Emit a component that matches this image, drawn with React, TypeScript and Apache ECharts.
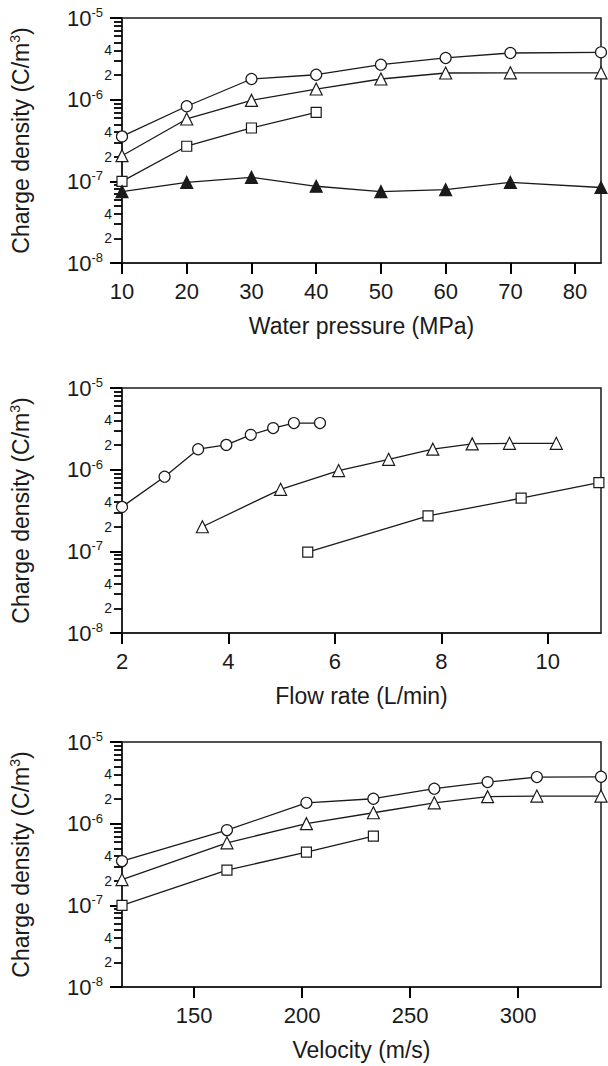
import React, { useEffect, useRef } from "react";
import * as echarts from "echarts";

// ---------- data ----------
const pressure = [10, 20, 30, 40, 50, 60, 70, 84];
const pressureCircle = [3.55e-7, 8.3e-7, 1.79e-6, 2.02e-6, 2.68e-6, 3.24e-6, 3.73e-6, 3.8e-6];
const pressureTriangle = [2.06e-7, 5.8e-7, 9.8e-7, 1.35e-6, 1.79e-6, 2.12e-6, 2.13e-6, 2.13e-6];
const pressureSquareX = [10, 20, 30, 40];
const pressureSquare = [1.0e-7, 2.69e-7, 4.5e-7, 7.0e-7];
const pressureFilled = [7.5e-8, 9.7e-8, 1.12e-7, 8.7e-8, 7.5e-8, 7.9e-8, 9.7e-8, 8.4e-8];

const flowCircleX = [2.0, 2.8, 3.43, 3.96, 4.42, 4.84, 5.23, 5.72];
const flowCircle = [3.5e-7, 8.2e-7, 1.78e-6, 2.01e-6, 2.67e-6, 3.23e-6, 3.72e-6, 3.72e-6];
const flowTriangleX = [3.51, 4.98, 6.07, 7.01, 7.84, 8.58, 9.28, 10.16];
const flowTriangle = [2.0e-7, 5.75e-7, 9.75e-7, 1.34e-6, 1.78e-6, 2.07e-6, 2.1e-6, 2.1e-6];
const flowSquareX = [5.49, 7.75, 9.5, 10.96];
const flowSquare = [9.8e-8, 2.71e-7, 4.47e-7, 6.95e-7];

const velocity = [116.6, 165.2, 202, 233, 261.2, 285.9, 308.7, 338.4];
const velocityCircle = [3.48e-7, 8.34e-7, 1.8e-6, 2.02e-6, 2.68e-6, 3.23e-6, 3.72e-6, 3.75e-6];
const velocityTriangle = [2.07e-7, 5.83e-7, 1.0e-6, 1.36e-6, 1.8e-6, 2.14e-6, 2.18e-6, 2.18e-6];
const velocitySquareX = [116.6, 165.2, 202, 233];
const velocitySquare = [1.0e-7, 2.7e-7, 4.48e-7, 7.05e-7];

const pressureTicks = [10, 20, 30, 40, 50, 60, 70, 80];
const flowTicks = [2, 4, 6, 8, 10];
const velocityTicks = [150, 200, 250, 300];

const yMajor = [1e-8, 1e-7, 1e-6, 1e-5];
const yMinorLabels = [2e-8, 4e-8, 2e-7, 4e-7, 2e-6, 4e-6];
const yMinorTicks = [
  2e-8, 3e-8, 4e-8, 5e-8, 6e-8, 7e-8, 8e-8, 9e-8,
  2e-7, 3e-7, 4e-7, 5e-7, 6e-7, 7e-7, 8e-7, 9e-7,
  2e-6, 3e-6, 4e-6, 5e-6, 6e-6, 7e-6, 8e-6, 9e-6,
];

const xTitles = ["Water pressure (MPa)", "Flow rate (L/min)", "Velocity (m/s)"];
const yTitle = "Charge density (C/m";

// ---------- styling ----------
const INK = "#1a1a1a";
const TICK = "#000000";
const FONT = '"Liberation Sans", Arial, Helvetica, sans-serif';

function expOf(v: number) {
  return Math.floor(Math.log10(v) + 1e-9);
}
function majorFmt(v: number) {
  return `{b|10}{s|${expOf(v)}}`;
}
function minorFmt(v: number) {
  const e = expOf(v);
  return String(Math.round(v / Math.pow(10, e)));
}

type S = { x: number[]; y: number[]; symbol: string; filled?: boolean; size: number };

const panels: { top: number; min: number; max: number; ticks: number[]; series: S[] }[] = [
  {
    top: 18, min: 10, max: 84, ticks: pressureTicks,
    series: [
      { x: pressure, y: pressureCircle, symbol: "circle", size: 11 },
      { x: pressure, y: pressureTriangle, symbol: "triangle", size: 12 },
      { x: pressureSquareX, y: pressureSquare, symbol: "rect", size: 10 },
      { x: pressure, y: pressureFilled, symbol: "triangle", size: 12, filled: true },
    ],
  },
  {
    top: 388, min: 2, max: 11, ticks: flowTicks,
    series: [
      { x: flowCircleX, y: flowCircle, symbol: "circle", size: 11 },
      { x: flowTriangleX, y: flowTriangle, symbol: "triangle", size: 12 },
      { x: flowSquareX, y: flowSquare, symbol: "rect", size: 10 },
    ],
  },
  {
    top: 742, min: 116.6, max: 338.4, ticks: velocityTicks,
    series: [
      { x: velocity, y: velocityCircle, symbol: "circle", size: 11 },
      { x: velocity, y: velocityTriangle, symbol: "triangle", size: 12 },
      { x: velocitySquareX, y: velocitySquare, symbol: "rect", size: 10 },
    ],
  },
];

function buildOption() {
  const grid: any[] = [];
  const xAxis: any[] = [];
  const yAxis: any[] = [];
  const series: any[] = [];

  panels.forEach((p, i) => {
    grid.push({
      left: 122, top: p.top, width: 479, height: 245,
      show: true, borderColor: INK, borderWidth: 1.5, backgroundColor: "transparent",
    });
    xAxis.push({
      type: "value", gridIndex: i, min: p.min, max: p.max, position: "bottom",
      axisLine: { show: true, onZero: false, lineStyle: { color: INK, width: 1.5 } },
      axisTick: { show: true, inside: false, length: 11, lineStyle: { color: TICK, width: 2 }, customValues: p.ticks },
      axisLabel: { customValues: p.ticks, margin: 17, fontSize: 22, color: INK, fontFamily: FONT },
      splitLine: { show: false },
      name: xTitles[i], nameLocation: "middle", nameGap: 51,
      nameTextStyle: { fontSize: 23, color: INK, fontFamily: FONT },
    });
    yAxis.push({
      type: "log", logBase: 10, gridIndex: i, min: 1e-8, max: 1e-5, position: "left",
      axisLine: { show: true, onZero: false, lineStyle: { color: INK, width: 1.5 } },
      axisTick: { show: true, inside: false, length: 12, lineStyle: { color: TICK, width: 2 }, customValues: yMajor },
      axisLabel: {
        customValues: yMajor, margin: 19,
        formatter: (v: number) => majorFmt(v),
        rich: {
          b: { fontSize: 22, lineHeight: 24, color: INK, fontFamily: FONT },
          s: { fontSize: 13, lineHeight: 13, color: INK, fontFamily: FONT, verticalAlign: "top" },
        },
      },
      splitLine: { show: false },
      name: `{t|${yTitle}}{s|3}{t|)}`, nameLocation: "middle", nameRotate: 90, nameGap: 88,
      nameTextStyle: {
        rich: {
          t: { fontSize: 23, lineHeight: 26, color: INK, fontFamily: FONT },
          s: { fontSize: 14, lineHeight: 14, color: INK, fontFamily: FONT, verticalAlign: "top" },
        },
      },
    });
    yAxis.push({
      type: "log", logBase: 10, gridIndex: i, min: 1e-8, max: 1e-5, position: "left",
      axisLine: { show: false },
      axisTick: { show: true, inside: false, length: 8, lineStyle: { color: TICK, width: 1.8 }, customValues: yMinorTicks },
      axisLabel: {
        customValues: yMinorLabels, margin: 10, fontSize: 14, color: INK, fontFamily: FONT,
        formatter: (v: number) => minorFmt(v),
      },
      splitLine: { show: false },
    });

    p.series.forEach((s) => {
      series.push({
        type: "line", xAxisIndex: i, yAxisIndex: i * 2,
        data: s.x.map((x, j) => [x, s.y[j]]),
        symbol: s.symbol, symbolSize: s.size, showSymbol: true, clip: false,
        lineStyle: { color: INK, width: 1.3 },
        itemStyle: { color: s.filled ? INK : "#ffffff", borderColor: INK, borderWidth: 1.2 },
        emphasis: { disabled: true }, z: 3,
      });
    });
  });

  return { animation: false, backgroundColor: "#ffffff", textStyle: { fontFamily: FONT }, grid, xAxis, yAxis, series };
}

export default function App() {
  const ref = useRef<HTMLDivElement>(null);
  useEffect(() => {
    document.body.style.margin = "0";
    if (!ref.current) return;
    const chart = echarts.init(ref.current, undefined, { renderer: "svg" });
    chart.setOption(buildOption() as any);
    return () => chart.dispose();
  }, []);
  return <div ref={ref} style={{ width: 608, height: 1066 }} />;
}
